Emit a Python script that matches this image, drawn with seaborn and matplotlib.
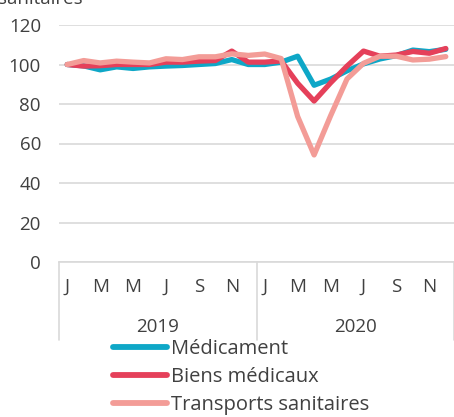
import numpy as np
import pandas as pd
import seaborn as sns
import matplotlib
matplotlib.use("Agg")
import matplotlib.pyplot as plt
import matplotlib.transforms as mtransforms

months = ["J", "F", "M", "A", "M", "J", "J", "A", "S", "O", "N", "D"] * 2
years = ["2019", "2020"]
medicament = [100, 99.3, 97.3, 98.8, 98.0, 98.8, 99.2, 99.5, 100.0, 100.5, 102.5, 100.0,
              100.0, 101.2, 104.2, 89.5, 92.6, 96.8, 100.3, 102.8, 104.5, 107.3, 106.5, 107.7]
biens = [100, 99.2, 99.4, 100.0, 100.0, 100.0, 101.2, 101.2, 101.7, 102.0, 106.8, 101.2,
         101.2, 101.8, 90.5, 81.5, 90.7, 99.2, 106.8, 104.2, 104.8, 106.6, 105.7, 108.1]
transports = [100, 102.0, 100.8, 101.7, 101.2, 100.8, 102.9, 102.5, 103.9, 103.9, 105.4, 104.6,
              105.3, 103.0, 73.7, 54.2, 74.0, 92.7, 100.6, 104.2, 104.2, 102.3, 102.7, 104.0]
series_names = ["Médicament", "Biens médicaux", "Transports sanitaires"]
colors = ["#0EA7C7", "#E5405A", "#F39C97"]

df = pd.DataFrame({
    "idx": list(range(24)) * 3,
    "value": medicament + biens + transports,
    "serie": [series_names[0]] * 24 + [series_names[1]] * 24 + [series_names[2]] * 24,
})

sns.set_theme(style="white")
plt.rcParams["font.family"] = ["Open Sans", "DejaVu Sans"]
txt = "#404040"
fs = 13.5

fig = plt.figure(figsize=(4.54, 4.17), dpi=100)
ax = fig.add_axes([59 / 454, (417 - 262) / 417, 1 - 59 / 454, 237 / 417])

sns.lineplot(data=df, x="idx", y="value", hue="serie", palette=colors,
             hue_order=series_names, linewidth=3.8, ax=ax, legend=False,
             solid_capstyle="round", solid_joinstyle="round", zorder=3)

ax.set_xlim(-0.5, 23.5)
ax.set_ylim(0, 120)
ax.set_yticks(range(0, 121, 20))
ax.set_yticklabels([str(v) for v in range(0, 121, 20)], fontsize=fs, color=txt)
ax.tick_params(axis="y", length=0, pad=13)
ax.yaxis.grid(True, color="#D9D9D9", linewidth=1.2)
ax.set_axisbelow(True)
ax.set_xticks([])
ax.set_xlabel("")
ax.set_ylabel("")
for s in ["top", "right", "left"]:
    ax.spines[s].set_visible(False)
ax.spines["bottom"].set_color("#D9D9D9")
ax.spines["bottom"].set_linewidth(1.2)

trans = mtransforms.blended_transform_factory(ax.transData, ax.transAxes)
for xv in [-0.5, 11.5, 23.5]:
    ax.plot([xv, xv], [0, -0.33], transform=trans, color="#D9D9D9",
            linewidth=1.2, clip_on=False)
for i, m in enumerate(months):
    if i % 2 == 0:
        ax.text(i, -0.105, m, transform=trans, ha="center", va="center",
                fontsize=fs, color=txt)
for j, y in enumerate(years):
    ax.text(5.5 + 12 * j, -0.275, y, transform=trans, ha="center", va="center",
            fontsize=fs, color=txt)

handles = [plt.Line2D([0], [0], color=c, linewidth=4.2, solid_capstyle="round")
           for c in colors]
fig.legend(handles, series_names, loc="upper left", bbox_to_anchor=(113 / 454, 1 - 339 / 417),
           frameon=False, fontsize=14.5, labelcolor=txt, handlelength=2.7,
           handletextpad=0.2, labelspacing=0.4, borderaxespad=0, borderpad=0)

fig.text(-2 / 454, 1 - 4 / 417, "sanitaires", ha="left", va="baseline",
         fontsize=fs, color=txt)

fig.savefig("out.png", dpi=100)
